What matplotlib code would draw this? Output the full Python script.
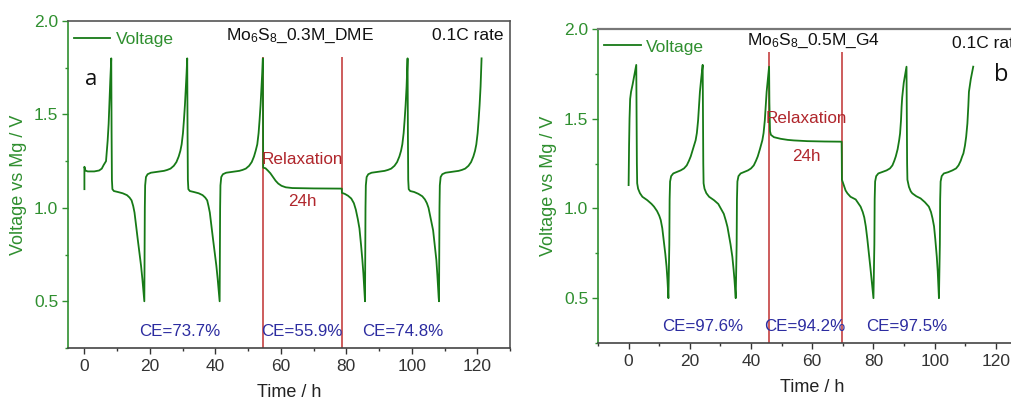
import matplotlib
matplotlib.use('Agg')
import matplotlib.pyplot as plt
from matplotlib.ticker import MultipleLocator, FormatStrFormatter

matplotlib.rcParams['font.family'] = 'Liberation Sans'
matplotlib.rcParams['mathtext.fontset'] = 'custom'
matplotlib.rcParams['mathtext.rm'] = 'Liberation Sans'
matplotlib.rcParams['mathtext.it'] = 'Liberation Sans:italic'

# panel a: Mo6S8 in 0.3M DME, time (h) / voltage (V)
time_a = [0.0, 0.0, 0.3, 1.0, 3.0, 4.5, 5.3, 5.9, 6.6, 7.1, 7.4, 7.65, 7.9, 8.2,
          8.3, 8.4, 8.55, 9.0, 10.2, 11.7, 13.0, 13.8, 14.4, 14.9, 15.3, 15.8, 16.3, 16.8, 17.3, 17.7, 18.0, 18.2, 18.3,
          18.4, 18.45, 18.55, 18.8, 19.3, 20.3, 22.3, 24.3, 25.3, 26.3, 27.3, 28.1, 28.8, 29.3, 29.7, 30.1, 30.4, 30.7, 31.0, 31.2, 31.4,
          31.5, 31.6, 31.75, 32.2, 33.4, 34.9, 36.1, 36.9, 37.5, 37.9, 38.3, 38.8, 39.3, 39.8, 40.3, 40.7, 41.0, 41.2, 41.3,
          41.4, 41.45, 41.55, 41.8, 42.3, 43.3, 45.3, 47.3, 48.3, 49.3, 50.3, 51.1, 51.8, 52.3, 52.8, 53.2, 53.5, 53.8, 54.1, 54.3, 54.5,
          54.6, 55.3, 56.0, 56.8, 57.6, 58.4, 59.2, 60.2, 61.5, 63.5, 70.0, 78.6,
          78.65, 79.5, 80.5, 81.5, 82.3, 82.9, 83.5, 84.0, 84.5, 84.9, 85.2, 85.45, 85.6, 85.7,
          85.8, 85.85, 85.95, 86.2, 86.7, 87.7, 89.7, 91.7, 92.7, 93.7, 94.7, 95.5, 96.2, 96.7, 97.1, 97.5, 97.8, 98.1, 98.4, 98.55, 98.7,
          98.8, 98.9, 99.05, 99.5, 100.7, 102.0, 103.2, 104.0, 104.6, 105.1, 105.5, 106.0, 106.5, 107.0, 107.5, 107.8, 108.05, 108.2, 108.3,
          108.4, 108.45, 108.55, 108.8, 109.3, 110.3, 112.3, 114.3, 115.3, 116.3, 117.3, 118.1, 118.8, 119.3, 119.7, 120.1, 120.4, 120.7, 121.0, 121.15, 121.3]
volt_a = [1.10, 1.22, 1.20, 1.195, 1.195, 1.20, 1.21, 1.23, 1.25, 1.36, 1.45, 1.57, 1.68, 1.80,
          1.40, 1.15, 1.10, 1.09, 1.085, 1.078, 1.068, 1.055, 1.04, 1.01, 0.975, 0.90, 0.83, 0.76, 0.69, 0.62, 0.56, 0.52, 0.50,
          0.80, 1.00, 1.12, 1.165, 1.18, 1.188, 1.193, 1.198, 1.203, 1.21, 1.225, 1.245, 1.275, 1.305, 1.34, 1.40, 1.47, 1.55, 1.65, 1.72, 1.80,
          1.40, 1.15, 1.10, 1.09, 1.085, 1.078, 1.068, 1.055, 1.04, 1.01, 0.975, 0.90, 0.83, 0.76, 0.69, 0.62, 0.56, 0.52, 0.50,
          0.80, 1.00, 1.12, 1.165, 1.18, 1.188, 1.193, 1.198, 1.203, 1.21, 1.225, 1.245, 1.275, 1.305, 1.34, 1.40, 1.47, 1.55, 1.65, 1.72, 1.80,
          1.215, 1.212, 1.20, 1.185, 1.165, 1.145, 1.13, 1.118, 1.110, 1.106, 1.104, 1.103,
          1.08, 1.075, 1.065, 1.05, 1.025, 0.99, 0.94, 0.89, 0.80, 0.72, 0.65, 0.58, 0.53, 0.50,
          0.80, 1.00, 1.12, 1.165, 1.18, 1.188, 1.193, 1.198, 1.203, 1.21, 1.225, 1.245, 1.275, 1.305, 1.34, 1.40, 1.47, 1.55, 1.65, 1.72, 1.80,
          1.40, 1.15, 1.10, 1.09, 1.085, 1.075, 1.062, 1.045, 1.025, 1.00, 0.965, 0.92, 0.88, 0.80, 0.72, 0.64, 0.56, 0.52, 0.50,
          0.80, 1.00, 1.12, 1.165, 1.18, 1.188, 1.193, 1.198, 1.203, 1.21, 1.225, 1.245, 1.275, 1.305, 1.34, 1.40, 1.47, 1.55, 1.65, 1.72, 1.80]

# panel b: Mo6S8 in 0.5M G4
time_b = [0.0, 0.15, 0.3, 0.5, 0.8, 1.3, 1.9, 2.5,
          2.6, 2.7, 2.8, 3.1, 3.7, 4.5, 6.1, 7.5, 8.3, 9.3, 10.0, 10.5, 11.0, 11.5, 12.0, 12.4, 12.7, 12.9, 13.0,
          13.3, 13.4, 13.55, 13.9, 14.6, 15.9, 17.0, 18.1, 19.0, 19.7, 20.3, 21.0, 21.9, 22.3, 22.7, 23.0, 23.3, 23.7, 24.2,
          24.3, 24.4, 24.5, 24.8, 25.4, 26.3, 27.9, 29.3, 30.1, 31.1, 31.8, 32.3, 32.8, 33.3, 33.9, 34.3, 34.6, 34.85, 35.0,
          35.3, 35.4, 35.55, 35.9, 36.6, 37.9, 39.0, 40.0, 40.9, 41.6, 42.2, 42.9, 43.7, 44.1, 44.5, 44.8, 45.1, 45.5, 45.9,
          46.0, 46.1, 46.2, 46.5, 47.5, 49.7, 52.0, 54.0, 58.4, 64.0, 69.6,
          69.65, 69.7, 70.3, 70.9, 71.5, 72.5, 74.2, 75.0, 75.8, 76.5, 77.0, 77.5, 78.0, 78.5, 79.0, 79.4, 79.75, 80.0,
          80.3, 80.4, 80.55, 80.9, 81.6, 83.0, 84.3, 85.4, 86.2, 86.8, 87.3, 87.9, 88.4, 88.7, 89.0, 89.2, 89.4, 89.9, 90.8,
          90.9, 91.0, 91.1, 91.6, 92.2, 92.7, 94.0, 95.4, 96.8, 98.1, 98.8, 99.3, 99.8, 100.2, 100.7, 101.0, 101.2, 101.35, 101.4,
          101.7, 101.8, 101.95, 102.3, 103.0, 104.4, 105.8, 107.0, 107.8, 108.5, 109.0, 109.4, 109.9, 110.3, 110.7, 111.0, 111.2, 111.8, 112.6]
volt_b = [1.13, 1.35, 1.50, 1.61, 1.65, 1.69, 1.745, 1.80,
          1.50, 1.25, 1.14, 1.11, 1.085, 1.065, 1.046, 1.025, 1.01, 0.985, 0.96, 0.935, 0.89, 0.82, 0.745, 0.675, 0.60, 0.54, 0.50,
          0.80, 1.05, 1.15, 1.18, 1.195, 1.204, 1.212, 1.223, 1.24, 1.265, 1.29, 1.33, 1.38, 1.42, 1.49, 1.567, 1.65, 1.72, 1.80,
          1.50, 1.25, 1.14, 1.11, 1.085, 1.065, 1.046, 1.025, 1.00, 0.97, 0.93, 0.897, 0.85, 0.80, 0.73, 0.66, 0.60, 0.54, 0.50,
          0.80, 1.05, 1.15, 1.18, 1.195, 1.204, 1.212, 1.223, 1.24, 1.265, 1.29, 1.33, 1.38, 1.42, 1.49, 1.567, 1.65, 1.72, 1.79,
          1.59, 1.50, 1.43, 1.41, 1.397, 1.388, 1.382, 1.379, 1.375, 1.373, 1.372,
          1.30, 1.16, 1.13, 1.10, 1.084, 1.065, 1.05, 1.03, 1.01, 0.98, 0.95, 0.90, 0.83, 0.75, 0.67, 0.60, 0.54, 0.50,
          0.80, 1.05, 1.15, 1.18, 1.195, 1.204, 1.212, 1.223, 1.24, 1.265, 1.29, 1.33, 1.38, 1.418, 1.49, 1.567, 1.62, 1.70, 1.79,
          1.50, 1.25, 1.16, 1.12, 1.095, 1.084, 1.068, 1.056, 1.035, 1.01, 0.98, 0.945, 0.90, 0.83, 0.73, 0.65, 0.58, 0.53, 0.50,
          0.80, 1.05, 1.15, 1.18, 1.195, 1.202, 1.212, 1.223, 1.24, 1.265, 1.29, 1.307, 1.35, 1.40, 1.474, 1.57, 1.65, 1.72, 1.79]

relax_a = [54.6, 78.6]
relax_b = [46.0, 69.6]
ce_a = ['CE=73.7%', 'CE=55.9%', 'CE=74.8%']
ce_a_x = [29, 66.4, 97.2]
ce_b = ['CE=97.6%', 'CE=94.2%', 'CE=97.5%']
ce_b_x = [24.2, 57.7, 90.8]

line_green = '#177a17'
text_green = '#2f8f2f'
red = '#c03030'
dark_red = '#b0262c'
blue = '#2c2ca0'


def style_axes(ax, xlim):
    ax.set_xlim(*xlim)
    ax.set_ylim(0.25, 2.0)
    ax.xaxis.set_major_locator(MultipleLocator(20))
    ax.xaxis.set_minor_locator(MultipleLocator(10))
    ax.yaxis.set_major_locator(MultipleLocator(0.5))
    ax.yaxis.set_minor_locator(MultipleLocator(0.25))
    ax.yaxis.set_major_formatter(FormatStrFormatter('%.1f'))
    ax.tick_params(axis='x', which='major', direction='out', length=4, width=1,
                   colors='#333333', labelsize=12.5, pad=4)
    ax.tick_params(axis='x', which='minor', direction='out', length=2.5, width=1, colors='#333333')
    ax.tick_params(axis='y', which='major', direction='out', length=4, width=1,
                   colors=text_green, labelsize=12.5, pad=3)
    ax.tick_params(axis='y', which='minor', direction='out', length=2.5, width=1, colors=text_green)
    ax.spines['left'].set_color(text_green)
    ax.spines['bottom'].set_color('#444444')
    ax.spines['top'].set_color('#555555')
    ax.spines['right'].set_color('#555555')
    for s in ax.spines.values():
        s.set_linewidth(1.2)
    ax.set_xlabel('Time / h', fontsize=13, color='#222222', labelpad=7)
    ax.set_ylabel('Voltage vs Mg / V', fontsize=13, color=text_green, labelpad=5)


fig = plt.figure(figsize=(10.11, 4.01), dpi=100)

# panel a
ax1 = fig.add_axes([0.0673, 0.1322, 0.4372, 0.8154])
style_axes(ax1, (-5, 130))
ax1.vlines(relax_a, 0.25, 1.81, colors=red, linewidth=1.1, zorder=1)
ax1.plot(time_a, volt_a, color=line_green, linewidth=1.3, zorder=2, label='Voltage')
ax1.legend(loc='upper left', frameon=False, fontsize=12.5, handlelength=2.1,
           handletextpad=0.3, borderaxespad=0.2, labelcolor=text_green,
           bbox_to_anchor=(-0.01, 1.0))
ax1.text(0.525, 0.942, r'Mo$_{\mathrm{6}}$S$_{\mathrm{8}}$_0.3M_DME', transform=ax1.transAxes,
         ha='center', va='baseline', fontsize=12.5, color='#111111')
ax1.text(0.986, 0.942, '0.1C rate', transform=ax1.transAxes,
         ha='right', va='baseline', fontsize=12.5, color='#111111')
ax1.text(0.038, 0.82, 'a', transform=ax1.transAxes, fontsize=16, family='Open Sans',
         ha='left', va='center', color='#111111')
ax1.text(66.6, 1.258, 'Relaxation', ha='center', va='center', fontsize=12.3, color=dark_red)
ax1.text(66.7, 1.035, '24h', ha='center', va='center', fontsize=12.3, color=dark_red)
for lab, x in zip(ce_a, ce_a_x):
    ax1.text(x, 0.34, lab, ha='center', va='center', fontsize=12.2, color=blue)

# panel b (cropped on the right in the original)
ax2 = fig.add_axes([0.5915, 0.1446, 0.4238, 0.7831])
style_axes(ax2, (-10, 130))
ax2.spines['right'].set_visible(False)
ax2.spines['top'].set_color('#777777')
ax2.spines['top'].set_linewidth(1.6)
ax2.vlines(relax_b, 0.25, 1.87, colors=red, linewidth=1.1, zorder=1)
ax2.plot(time_b, volt_b, color=line_green, linewidth=1.3, zorder=2, label='Voltage')
ax2.legend(loc='upper left', frameon=False, fontsize=12.5, handlelength=2.1,
           handletextpad=0.3, borderaxespad=0.2, labelcolor=text_green,
           bbox_to_anchor=(-0.01, 1.0))
ax2.text(0.502, 0.949, r'Mo$_{\mathrm{6}}$S$_{\mathrm{8}}$_0.5M_G4', transform=ax2.transAxes,
         ha='center', va='baseline', fontsize=12.5, color='#111111')
ax2.text(0.826, 0.94, '0.1C rate', transform=ax2.transAxes,
         ha='left', va='baseline', fontsize=12.5, color='#111111')
ax2.text(0.924, 0.853, 'b', transform=ax2.transAxes, fontsize=17, family='Open Sans',
         ha='left', va='center', color='#111111')
ax2.text(58, 1.50, 'Relaxation', ha='center', va='center', fontsize=12.3, color=dark_red)
ax2.text(58, 1.288, '24h', ha='center', va='center', fontsize=12.3, color=dark_red)
for lab, x in zip(ce_b, ce_b_x):
    ax2.text(x, 0.34, lab, ha='center', va='center', fontsize=12.2, color=blue)

fig.savefig('out.png', dpi=100)
